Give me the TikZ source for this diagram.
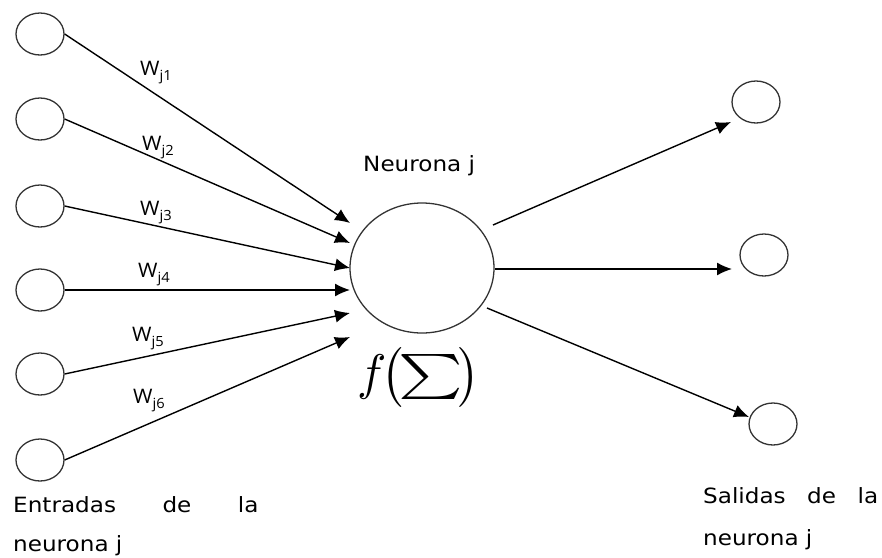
\documentclass[tikz,border=0pt]{standalone}
\usepackage{fontspec}
\setmainfont{DejaVu Sans}
\newfontfamily\wfont{Open Sans}
\usetikzlibrary{arrows.meta,positioning,shapes.geometric}

\begin{document}
\begin{tikzpicture}[x=1pt,y=-1pt,
		neuron/.style={shape=ellipse,draw=black!80,line width=1.3pt,minimum width=48pt,minimum height=42pt,inner sep=0},
		big/.style={neuron,minimum width=144pt,minimum height=130pt},
		link/.style={line width=1.4pt,-{Latex[length=15pt,width=13pt]}},
		lbl/.style={inner sep=0,anchor=base west,xscale=1.1,font=\fontsize{21}{25}\selectfont,text=black},
		wlbl/.style={inner sep=0,anchor=base west,xscale=1.05,font=\wfont\fontsize{20}{24}\selectfont,text=black}]
	\useasboundingbox (0,0) rectangle (882,557);
	% inputs
	\foreach \i/\y in {1/34,2/119,3/206,4/290,5/374,6/460}
		\node[neuron] (e\i) at (40,\y) {};
	% neuron j and outputs
	\node[big] (nj) at (422,268) {};
	\node[neuron] (s1) at (756,102) {};
	\node[neuron] (s2) at (764,255) {};
	\node[neuron] (s3) at (773,424) {};
	% arrow tips and starts
	\foreach \i/\y in {1/223,2/243,3/268,4/290,5/313,6/337}
		\coordinate (t\i) at (350,\y);
	\coordinate (o1) at (493,225); \coordinate (p1) at (731,122);
	\coordinate (o2) at (495,269); \coordinate (p2) at (732,269);
	\coordinate (o3) at (487,308); \coordinate (p3) at (749,417);
	\foreach \i in {1,...,6}
		\draw[link] (e\i.east) -- (t\i);
	\foreach \i in {1,2,3}
		\draw[link] (o\i) -- (p\i);
	% weights
	\foreach \i/\x/\y in {1/140/75,2/142/150,3/140/215,4/138/277,5/132/341,6/133/403}
		\node[wlbl] (w\i) at (\x,\y) {W\raisebox{-5pt}{\fontsize{14}{14}\selectfont j\i}};
	% texts
	\node[lbl] (tn) at (363,171) {Neurona j};
	\node[lbl] (te) at (13,512) {\makebox[223pt][s]{Entradas de la}};
	\node[lbl] (te2) at (13,551) {neurona j};
	\node[lbl] (ts) at (703,503) {\makebox[159pt][s]{Salidas de la}};
	\node[lbl] (ts2) at (703,545) {neurona j};
	\node[xscale=4.9,yscale=5,inner sep=0] (fs) at (419,377) {$f\mskip-2mu\bigl(\mskip-2mu\vcenter{\hbox{\scalebox{1.25}[0.9]{$\sum$}}}\mskip-2mu\bigr)$};
\end{tikzpicture}
\end{document}
